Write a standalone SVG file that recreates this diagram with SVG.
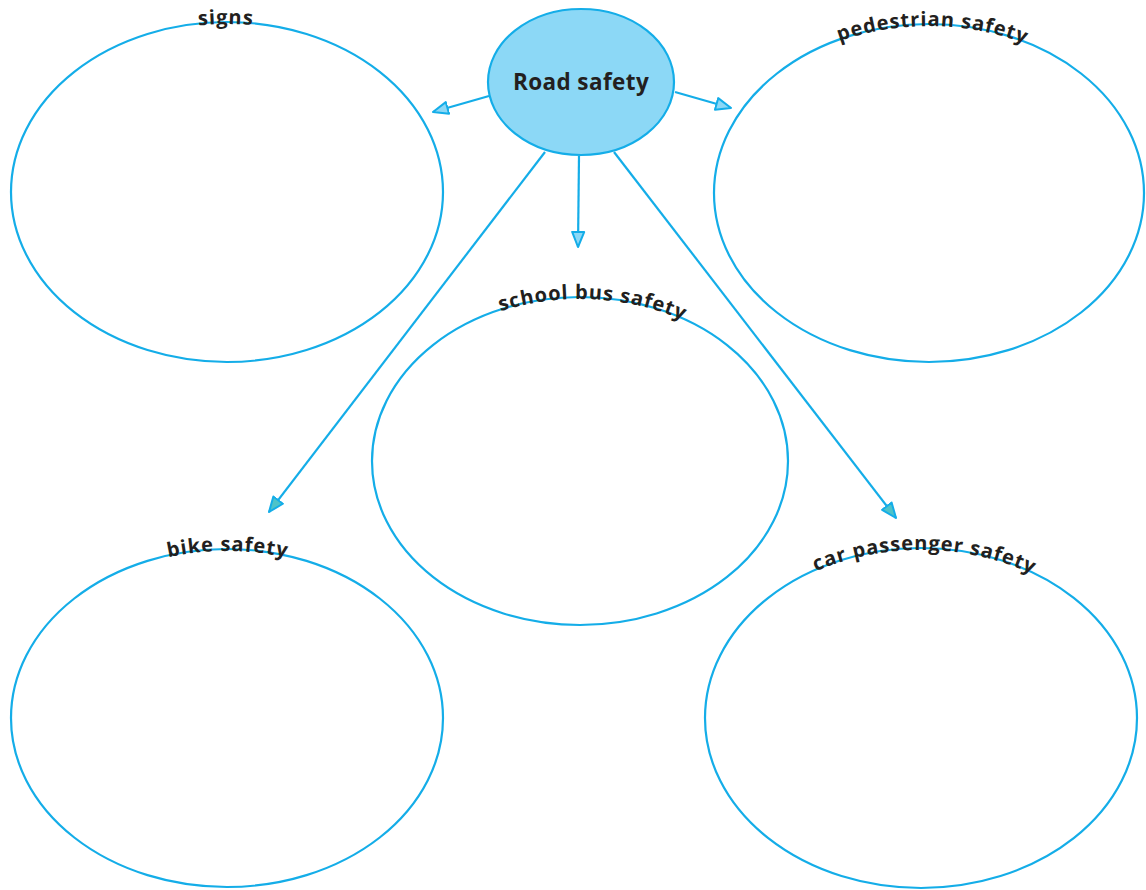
<svg xmlns="http://www.w3.org/2000/svg" width="1146" height="890" viewBox="0 0 1146 890">
<style>
.bub{fill:#ffffff;stroke:#14ade8;stroke-width:2.2}
.ctr{fill:#8cd8f6;stroke:#14ade8;stroke-width:2.2}
.lbl{font-family:"Open Sans","Noto Sans",sans-serif;font-weight:bold;font-size:20px;letter-spacing:0.9px;fill:#231f20}
.ttl{font-family:"Open Sans","Noto Sans",sans-serif;font-weight:bold;font-size:22.5px;letter-spacing:0.4px;fill:#231f20}
.con{stroke:#14ade8;stroke-width:2.2;fill:none}
</style>
<defs>
<marker id="ah" markerUnits="userSpaceOnUse" markerWidth="20" markerHeight="16" refX="16" refY="7" orient="auto" viewBox="0 0 20 14">
<path d="M1,1 L16,7 L1,13 Z" fill="#8cd8f6" stroke="#14ade8" stroke-width="2" stroke-linejoin="round"/>
</marker>
<marker id="ah2" markerUnits="userSpaceOnUse" markerWidth="20" markerHeight="16" refX="16" refY="7" orient="auto" viewBox="0 0 20 14">
<path d="M1,1 L16,7 L1,13 Z" fill="#4fc3c8" stroke="#14ade8" stroke-width="2" stroke-linejoin="round"/>
</marker>
<path id="p-signs" d="M11,193 A216,169 0 0 1 443,193"/>
<path id="p-ped" d="M714,194 A215,168 0 0 1 1144,194"/>
<path id="p-bus" d="M372,462 A208,163 0 0 1 788,462"/>
<path id="p-bike" d="M11,719 A216,168 0 0 1 443,719"/>
<path id="p-car" d="M705,719 A216,169 0 0 1 1137,719"/>
</defs>
<g id="connectors">
<line class="con" x1="489" y1="96" x2="433" y2="112" marker-end="url(#ah)"/>
<line class="con" x1="675" y1="92" x2="731" y2="108" marker-end="url(#ah)"/>
<line class="con" x1="579" y1="156" x2="578" y2="247" marker-end="url(#ah)"/>
<line class="con" x1="545" y1="152" x2="269" y2="512" marker-end="url(#ah2)"/>
<line class="con" x1="614" y1="152" x2="896" y2="518" marker-end="url(#ah2)"/>
</g>
<g id="node-center">
<ellipse class="ctr" cx="581" cy="82" rx="93" ry="73"/>
<text class="ttl" x="581" y="90" text-anchor="middle">Road safety</text>
</g>
<g id="node-signs">
<ellipse class="bub" cx="227" cy="192" rx="216" ry="170"/>
<text class="lbl"><textPath href="#p-signs" startOffset="49.8%" text-anchor="middle">signs</textPath></text>
</g>
<g id="node-pedestrian">
<ellipse class="bub" cx="929" cy="193" rx="215" ry="169"/>
<text class="lbl"><textPath href="#p-ped" startOffset="50.6%" text-anchor="middle">pedestrian safety</textPath></text>
</g>
<g id="node-schoolbus">
<ellipse class="bub" cx="580" cy="461" rx="208" ry="164"/>
<text class="lbl"><textPath href="#p-bus" startOffset="52.2%" text-anchor="middle">school bus safety</textPath></text>
</g>
<g id="node-bike">
<ellipse class="bub" cx="227" cy="718" rx="216" ry="169"/>
<text class="lbl"><textPath href="#p-bike" startOffset="50.1%" text-anchor="middle">bike safety</textPath></text>
</g>
<g id="node-car">
<ellipse class="bub" cx="921" cy="718" rx="216" ry="170"/>
<text class="lbl"><textPath href="#p-car" startOffset="50.6%" text-anchor="middle">car passenger safety</textPath></text>
</g>
</svg>
